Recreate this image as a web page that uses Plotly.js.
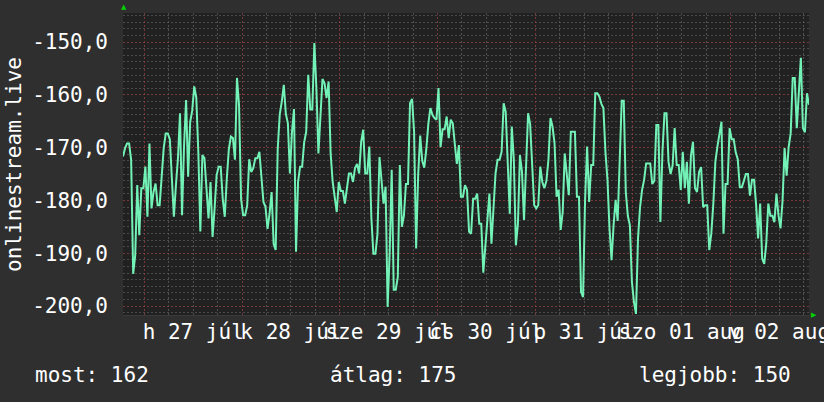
<!DOCTYPE html>
<html><head><meta charset="utf-8">
<script src="https://cdn.plot.ly/plotly-3.0.1.min.js"></script>
<style>html,body{margin:0;padding:0;background:#2f2f2f}</style>
</head><body>
<div id="chart" style="width:824px;height:402px"></div>
<script>
// ---- data ----
const seriesName = 'onlinestream.live';
const startTime = [2020, 6, 26, 18, 45]; // 2020-07-26 18:45 (first sample)
const stepMinutes = 30;
const values = [
 -171.7,-170.1,-169.2,-169.2,-172.3,-193.9,-190.4,-177.1,-186.6,-177.7,
 -177.7,-173.6,-183.1,-169.2,-181.5,-178.4,-176.8,-180.9,-180.9,-174.6,
 -170.1,-167.3,-167.3,-168.4,-177.1,-183.1,-177.1,-172.0,-163.5,-182.8,
 -169.5,-161.0,-175.5,-165.1,-163.0,-158.4,-160.5,-170.8,-185.9,-171.4,
 -172.0,-177.1,-183.4,-176.5,-186.9,-181.5,-175.2,-173.6,-173.6,-179.7,
 -183.1,-175.8,-170.3,-167.9,-168.2,-172.3,-156.8,-161.9,
 -179.7,-182.8,-182.8,-181.0,-172.2,-174.6,-173.9,-172.0,-172.0,-170.8,
 -176.3,-180.3,-181.2,-185.4,-182.5,-178.4,-188.2,-189.4,-170.3,-163.7,
 -161.3,-158.1,-163.6,-165.4,-174.9,-167.1,-162.7,-189.7,-176.5,-173.6,
 -173.6,-169.0,-167.0,-156.2,-162.8,-162.8,-150.2,-158.7,-171.1,-162.5,
 -157.0,-157.8,-160.6,-157.5,-171.1,-176.5,-179.7,-182.2,-176.5,-178.2,
 -178.2,-180.6,-177.7,-174.9,-174.9,-176.5,-173.8,
 -173.1,-174.9,-168.9,-166.6,-174.9,-174.9,-169.8,-183.2,-190.1,-190.1,
 -186.4,-171.8,-175.8,-180.6,-177.4,-200.2,-190.1,-174.2,-196.9,-196.9,
 -194.5,-173.3,-185.0,-182.9,-176.9,-176.9,-161.6,-160.8,-167.0,-189.1,
 -175.2,-167.7,-172.5,-173.8,-170.3,-165.5,-162.5,-163.8,-164.4,-164.7,
 -158.7,-169.9,-166.5,-166.5,-164.1,-168.2,-164.7,-165.4,-169.3,-173.1,
 -169.5,-179.3,-179.3,-177.1,-178.0,-185.9,
 -186.3,-179.7,-179.7,-178.7,-184.4,-184.4,-193.7,-188.2,-184.7,-178.7,
 -188.2,-181.3,-174.9,-172.3,-172.3,-170.8,-161.6,-163.2,-173.4,-182.5,
 -166.0,-172.3,-188.5,-184.5,-171.4,-174.6,-183.7,-174.6,-163.5,-165.5,
 -173.7,-180.9,-181.5,-180.9,-173.6,-176.5,-177.7,-176.3,-172.3,-164.4,
 -166.0,-169.2,-179.3,-178.0,-185.6,-182.2,-171.1,-175.6,-179.0,-167.0,
 -167.0,-167.0,-179.3,-179.3,-197.3,-198.3,
 -179.9,-169.8,-180.3,-173.3,-173.3,-159.7,-159.7,-160.3,-161.7,-162.5,
 -170.8,-176.1,-185.3,-191.3,-184.7,-179.9,-183.9,-172.3,-161.1,-161.1,
 -178.4,-182.9,-184.7,-195.4,-199.2,-201.5,-187.2,-181.3,-178.0,-176.1,
 -173.0,-173.0,-173.0,-176.9,-176.3,-165.7,-165.7,-184.1,-170.8,-163.5,
 -163.5,-172.7,-175.0,-173.4,-166.3,-173.3,-173.3,-178.0,-170.8,-177.7,
 -172.7,-180.6,-171.5,-168.9,-177.7,-178.4,-174.6,
 -173.7,-181.3,-180.9,-180.9,-189.4,-186.3,-180.6,-172.7,-169.8,-167.0,
 -165.1,-186.3,-176.9,-176.9,-166.3,-168.4,-168.4,-170.9,-172.2,-177.5,
 -177.5,-176.3,-175.0,-175.0,-179.1,-176.1,-176.1,-180.7,-187.2,-180.6,
 -191.0,-192.0,-188.2,-180.6,-182.9,-182.9,-184.1,-178.7,-182.8,-185.3,
 -180.1,-170.1,-175.3,-169.9,-167.3,-156.8,-156.8,-166.3,-160.6,-153.0,
 -166.3,-167.1,-159.7,-161.9
];
const xRange = ['2020-07-26 18:45', '2020-08-02 19:15'];
const dayLabelPositions = ['2020-07-27 12:00','2020-07-28 12:00','2020-07-29 12:00','2020-07-30 12:00','2020-07-31 12:00','2020-08-01 12:00','2020-08-02 12:00'];
const dayLabels = ['h 27 júl','k 28 júl','sze 29 júl','cs 30 júl','p 31 júl','szo 01 aug','v 02 aug'];
const yTickVals = [-150,-160,-170,-180,-190,-200];
const yTickText = ['-150,0','-160,0','-170,0','-180,0','-190,0','-200,0'];
const yRange = [-201.7, -144.5];
const statLabels = ['most:', 'átlag:', 'legjobb:'];
const statValues = [162, 175, 150];

// ---- build ----
const t0 = Date.UTC.apply(null, startTime);
const times = values.map((_, i) =>
  new Date(t0 + i * stepMinutes * 60000).toISOString().slice(0, 19).replace('T', ' '));

const FONT = 'DejaVu Sans Mono';
const FS = 21;
const traces = [
  { x: times, y: values, xaxis: 'x', yaxis: 'y', type: 'scatter', mode: 'lines',
    line: { color: '#72f2b6', width: 2, shape: 'linear' }, hoverinfo: 'skip' },
  { x: times, y: values, xaxis: 'x2', yaxis: 'y', type: 'scatter', mode: 'lines',
    line: { color: 'rgba(0,0,0,0)', width: 0 }, opacity: 0, hoverinfo: 'skip' }
];

const statX = [-0.131, 0.299, 0.749];
const annotations = statLabels.map((s, i) => ({
  text: s + ' ' + statValues[i], xref: 'paper', yref: 'paper',
  x: statX[i], y: -0.199, xanchor: 'left', yanchor: 'middle', showarrow: false,
  font: { family: FONT, size: FS, color: '#ffffff' }
}));
annotations.push({
  text: seriesName, xref: 'paper', yref: 'paper', x: -0.159, y: 0.5,
  xanchor: 'center', yanchor: 'middle', textangle: -90, showarrow: false,
  font: { family: FONT, size: FS, color: '#ffffff' }
});
annotations.push({ text: '▲', xref: 'paper', yref: 'paper', x: 0.002, y: 1.0, xanchor: 'center', yanchor: 'bottom',
  showarrow: false, font: { family: 'DejaVu Sans', size: 7, color: '#00d000' } });
annotations.push({ text: '▶', xref: 'paper', yref: 'paper', x: 1.0, y: 0.0, xanchor: 'left', yanchor: 'middle',
  showarrow: false, font: { family: 'DejaVu Sans', size: 7, color: '#00d000' } });

const layout = {
  width: 824, height: 402,
  paper_bgcolor: '#2f2f2f', plot_bgcolor: '#212121',
  margin: { l: 123, r: 15, t: 13, b: 87, autoexpand: false },
  showlegend: false,
  font: { family: FONT, size: FS, color: '#ffffff' },
  xaxis: {
    type: 'date', range: xRange, tickmode: 'array', tickvals: dayLabelPositions, ticktext: dayLabels,
    tickangle: 0, showgrid: false, zeroline: false, ticks: '', showline: true, linecolor: '#3a3a3a',
    ticklabelstandoff: -2, ticklabeloverflow: 'allow',
    tickfont: { family: FONT, size: FS, color: '#ffffff' }
  },
  xaxis2: {
    type: 'date', range: xRange, overlaying: 'x', anchor: 'y', side: 'bottom',
    tickmode: 'linear', tick0: '2020-07-27 00:00', dtick: 86400000,
    showgrid: true, gridcolor: '#7a3838', griddash: '2px,2px', gridwidth: 1,
    showticklabels: false, ticks: '', zeroline: false, showline: false,
    minor: { tickmode: 'linear', tick0: '2020-07-27 00:00', dtick: 21600000, showgrid: true,
             gridcolor: '#505050', griddash: '2px,2px', gridwidth: 1, ticks: '' }
  },
  yaxis: {
    range: yRange, tickmode: 'array', tickvals: yTickVals, ticktext: yTickText,
    showgrid: true, gridcolor: '#7a3838', griddash: '2px,2px', gridwidth: 1,
    zeroline: false, ticks: '', showline: false, ticklabelstandoff: 14,
    tickfont: { family: FONT, size: FS, color: '#ffffff' },
    minor: { tickmode: 'linear', tick0: -150, dtick: 1.25, showgrid: true,
             gridcolor: '#4a4a4a', griddash: '2px,2px', gridwidth: 1, ticks: '' }
  },
  annotations: annotations
};

Plotly.newPlot('chart', traces, layout, { staticPlot: true, displayModeBar: false });
</script>
</body></html>
